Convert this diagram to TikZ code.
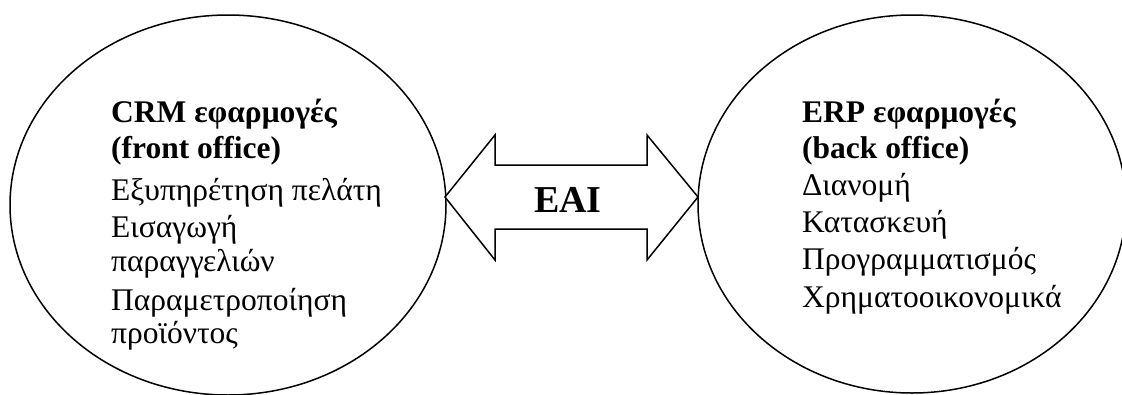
\documentclass[tikz,border=0pt]{standalone}
\usepackage{fontspec}
\setmainfont{Liberation Serif}
\usetikzlibrary{shapes.geometric}
\begin{document}
\begin{tikzpicture}[x=1pt,y=-1pt,
  bubble/.style={draw=black,line width=1.5pt,fill=white,ellipse,inner sep=0pt},
  txtline/.style={anchor=base west,inner sep=0pt,font=\fontsize{31.5}{36}\selectfont},
  headline/.style={txtline,font=\fontsize{31.5}{36}\selectfont\bfseries},
  bigarrow/.style={draw=black,line width=1.5pt,fill=white,line join=miter}]
\useasboundingbox (0,0) rectangle (1122,394);
\clip (0,0) rectangle (1122,394);
\node[bubble,minimum width=436pt,minimum height=380pt] (crm) at (228,205) {};
\node[bubble,minimum width=428pt,minimum height=378pt] (erp) at (912,204) {};
% double arrow
\coordinate (lt) at (445,197);
\coordinate (rt) at (698,197);
\draw[bigarrow] (lt) -- (495,135) -- (495,165) -- (647,165) -- (647,135) -- (rt)
  -- (647,260) -- (647,229) -- (495,229) -- (495,260) -- cycle;
\node[anchor=base,inner sep=0pt,font=\fontsize{38}{40}\selectfont\bfseries] (eai) at (568,212) {EAI};
% left texts
\node[headline] (c1) at (111,122) {CRM εφαρμογές};
\node[headline] (c2) at (111,158) {(front office)};
\node[txtline] (c3) at (111,200) {Εξυπηρέτηση πελάτη};
\node[txtline] (c4) at (111,237) {Εισαγωγή};
\node[txtline] (c5) at (111,271) {παραγγελιών};
\node[txtline] (c6) at (111,310) {Παραμετροποίηση};
\node[txtline] (c7) at (111,343) {προϊόντος};
% right texts
\node[headline] (e1) at (802,122) {ERP εφαρμογές};
\node[headline] (e2) at (802,158) {(back office)};
\node[txtline] (e3) at (802,195) {Διανομή};
\node[txtline] (e4) at (802,232) {Κατασκευή};
\node[txtline] (e5) at (802,269) {Προγραμματισμός};
\node[txtline] (e6) at (802,307) {Χρηματοοικονομικά};
\end{tikzpicture}
\end{document}
